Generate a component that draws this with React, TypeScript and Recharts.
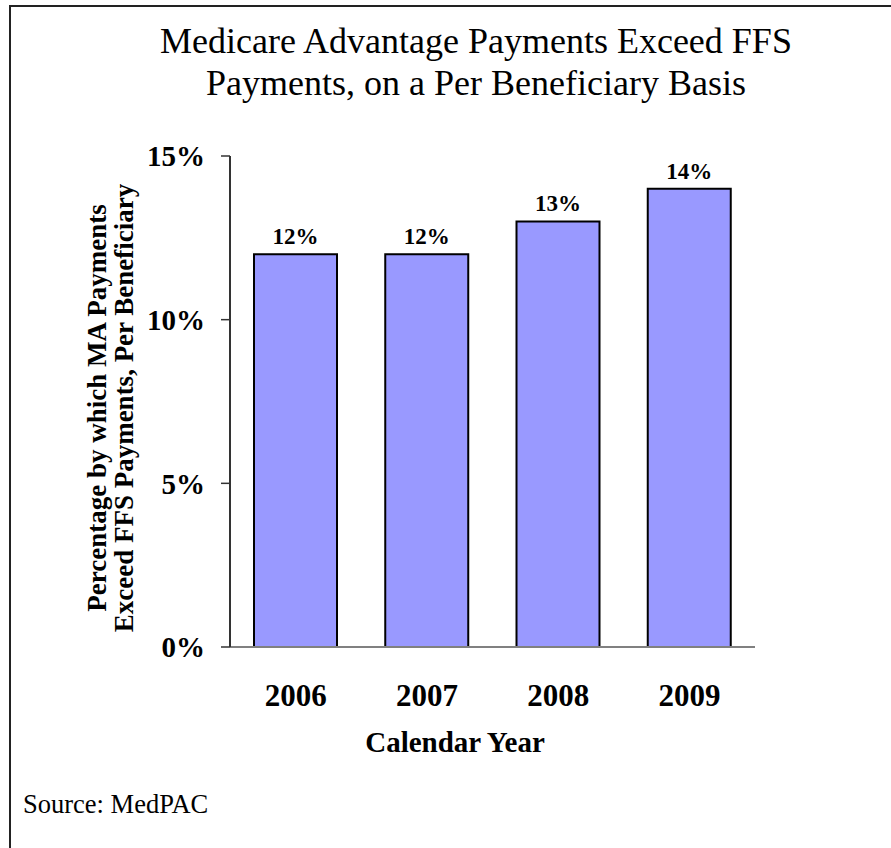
import React from 'react';
import { BarChart, Bar, XAxis, YAxis, LabelList } from 'recharts';

const years = ['2006', '2007', '2008', '2009'];
const excessPct = [12, 12, 13, 14];
const yTicks = [0, 5, 10, 15];

const data = years.map((y, i) => ({ year: y, pct: excessPct[i] }));

const serif = '"Liberation Serif", "Times New Roman", serif';

const App: React.FC = () => {
  return (
    <div style={{ position: 'absolute', left: 0, top: 0, width: 891, height: 848, background: '#fff', fontFamily: serif, overflow: 'hidden' }}>
      {/* frame: top and left only */}
      <div style={{ position: 'absolute', left: 9, top: 5, right: 0, height: 1.5, background: '#222' }} />
      <div style={{ position: 'absolute', left: 9, top: 5, bottom: 0, width: 1.5, background: '#222' }} />

      <div style={{ position: 'absolute', left: 0, width: 952, top: 20, textAlign: 'center', fontSize: 36, lineHeight: '42px', color: '#000', whiteSpace: 'nowrap' }}>
        Medicare Advantage Payments Exceed FFS<br />Payments, on a Per Beneficiary Basis
      </div>

      <BarChart
        width={891}
        height={848}
        data={data}
        margin={{ top: 156, right: 136, bottom: 141, left: 130 }}
        style={{ position: 'absolute', left: 0, top: 0 }}
      >
        <XAxis
          dataKey="year"
          axisLine={{ stroke: '#808080', strokeWidth: 2 }}
          tickLine={false}
          tickSize={0}
          tickMargin={37}
          height={60}
          tick={{ fill: '#000', fontSize: 31, fontWeight: 'bold', fontFamily: serif }}
        />
        <XAxis xAxisId="top" orientation="top" dataKey="year" height={0} tick={false} tickLine={false} axisLine={{ stroke: '#808080', strokeWidth: 2 }} />
        <YAxis
          domain={[0, 15]}
          ticks={yTicks}
          width={100}
          interval={0}
          tickFormatter={(v: number) => `${v}%`}
          axisLine={{ stroke: '#333', strokeWidth: 2 }}
          tickLine={{ stroke: '#333', strokeWidth: 1.5 }}
          tickSize={9}
          tickMargin={16}
          tick={{ fill: '#000', fontSize: 29, fontWeight: 'bold', fontFamily: serif }}
        />
        <YAxis yAxisId="right" orientation="right" width={0} tick={false} tickLine={false} axisLine={{ stroke: '#808080', strokeWidth: 2 }} />
        <Bar dataKey="pct" fill="#9999ff" stroke="#000" strokeWidth={2} barSize={83} isAnimationActive={false}>
          <LabelList
            dataKey="pct"
            position="top"
            offset={10}
            formatter={(v: any) => `${v}%`}
            style={{ fill: '#000', fontSize: 23, fontWeight: 'bold', fontFamily: serif }}
          />
        </Bar>
      </BarChart>

      {/* y axis title, two lines rotated */}
      <div
        style={{
          position: 'absolute',
          left: 111 - 250,
          top: 408 - 27,
          width: 500,
          height: 54,
          transform: 'rotate(-90deg)',
          textAlign: 'center',
          fontSize: 27,
          fontWeight: 'bold',
          lineHeight: '27px',
          color: '#000',
          whiteSpace: 'nowrap',
        }}
      >
        Percentage by which MA Payments<br />Exceed FFS Payments, Per Beneficiary
      </div>

      <div style={{ position: 'absolute', left: 0, width: 910, top: 728, textAlign: 'center', fontSize: 29, lineHeight: '29px', fontWeight: 'bold', color: '#000' }}>
        Calendar Year
      </div>

      <div style={{ position: 'absolute', left: 23, top: 791, fontSize: 26.5, lineHeight: '26px', color: '#000' }}>Source: MedPAC</div>
    </div>
  );
};

export default App;
